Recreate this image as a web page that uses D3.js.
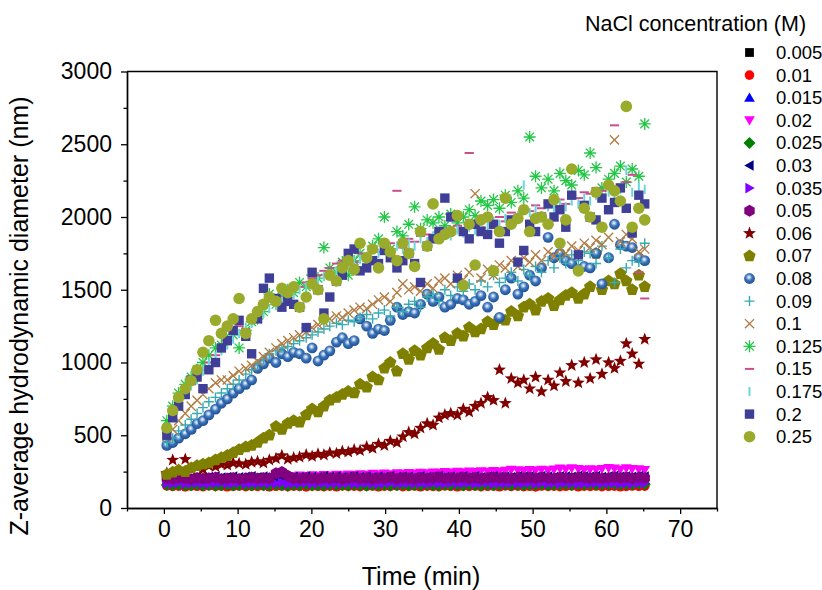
<!DOCTYPE html>
<html><head><meta charset="utf-8">
<script src="https://cdn.jsdelivr.net/npm/d3@7"></script>
<style>
body{margin:0;background:#fff}
svg{display:block}
text{font-family:"Liberation Sans",Arial,sans-serif;fill:#000}
</style>
</head><body>
<svg id="c" width="822" height="590"></svg>
<script>
// ---------------- DATA ----------------
const times = [0.4,1.2,2.0,2.9,3.7,4.5,5.3,6.1,7.0,7.8,
 8.6,9.4,10.2,11.1,11.9,12.7,13.5,14.3,15.2,16.0,
 16.8,17.6,18.4,19.3,20.1,20.9,21.7,22.5,23.4,24.2,
 25.0,25.8,26.6,27.5,28.3,29.1,29.9,30.7,31.6,32.4,
 33.2,34.0,34.8,35.7,36.5,37.3,38.1,38.9,39.8,40.6,
 41.4,42.2,43.0,43.9,44.7,45.5,46.3,47.1,48.0,48.8,
 49.6,50.4,51.2,52.1,52.9,53.7,54.5,55.3,56.2,57.0,
 57.8,58.6,59.4,60.3,61.1,61.9,62.7,63.5,64.4,65.2];

const concentrations = ["0.005","0.01","0.015","0.02","0.025","0.03","0.035","0.05","0.06",
 "0.07","0.08","0.09","0.1","0.125","0.15","0.175","0.2","0.25"];

const d0005 = [178,175,180,176,172,179,174,177,181,175, 173,178,176,180,174,177,179,175,172,178,
 176,180,174,177,175,179,173,176,178,174, 180,175,177,173,179,176,174,178,175,177,
 172,179,176,174,178,175,180,177,173,176, 179,174,177,175,178,173,180,176,174,177,
 175,179,172,178,176,174,180,177,175,173, 178,176,179,174,177,175,180,173,176,178];
const d001 = [152,148,150,146,151,149,147,153,148,150, 146,149,151,147,150,148,152,146,149,151,
 147,150,148,145,151,149,147,150,146,152, 148,150,147,149,151,146,150,148,152,147,
 149,151,146,150,148,147,152,149,146,150, 148,151,147,149,150,146,152,148,150,147,
 149,145,151,148,150,147,149,152,146,150, 148,151,147,149,150,146,148,151,149,150];
const d0015 = [186,183,188,182,185,187,184,181,186,189, 183,185,188,182,186,184,187,183,185,189,
 182,186,184,188,183,185,187,182,186,184, 188,183,185,187,184,182,186,189,183,185,
 187,184,186,182,188,185,183,187,184,186, 189,183,185,188,182,186,184,187,183,185,
 188,182,186,184,187,183,189,185,182,186, 184,188,183,185,187,182,186,184,188,185];
const d002 = [195,199,194,198,201,196,199,202,197,200, 203,199,205,201,207,204,209,206,212,208,
 220,216,222,219,224,221,226,223,228,225, 230,226,232,228,234,231,236,232,238,235,
 240,236,242,238,244,241,246,243,248,245, 250,246,252,249,254,251,256,262,258,255,
 260,257,262,259,264,270,266,272,268,263, 266,262,268,275,270,264,272,268,265,260];
const d0025 = [158,156,160,154,157,159,155,158,153,157, 160,155,158,156,154,159,157,155,160,156,
 153,158,156,159,155,157,154,160,156,158, 155,159,157,153,158,156,160,155,157,159,
 154,158,156,160,157,155,159,156,158,154, 160,157,155,159,156,158,161,157,159,156,
 160,158,162,157,160,159,163,158,161,160, 164,159,162,161,165,160,163,162,166,164];
const d003 = [214,210,216,212,208,215,211,213,217,209, 212,216,210,214,218,211,215,213,209,217,
 212,214,210,216,213,211,217,212,215,210, 214,218,212,216,211,215,213,219,212,216,
 214,210,217,213,215,220,212,216,214,218, 213,217,211,215,219,214,216,212,218,215,
 217,213,219,215,212,218,216,214,220,217, 215,219,213,217,221,216,218,214,219,216];
const d0035 = [170,167,172,166,169,171,168,165,170,173, 167,169,172,166,170,168,171,167,169,173,
 166,170,168,172,167,169,171,166,170,168, 172,167,169,171,168,166,170,173,167,169,
 171,168,170,166,172,169,167,171,168,170, 173,167,169,172,166,170,168,171,167,169,
 172,166,170,168,171,167,173,169,166,170, 168,172,167,169,171,166,170,168,172,169];
const d005 = [205,200,208,202,198,206,201,204,209,199, 203,207,200,205,210,202,206,204,238,248,
 222,205,201,207,203,200,208,202,206,199, 204,209,202,207,200,205,203,210,201,206,
 204,199,208,203,206,211,202,207,204,209, 203,208,201,206,210,204,207,202,209,205,
 208,203,210,206,202,209,207,204,211,208, 205,210,203,207,212,206,209,204,210,207];
const d006 = [240,330,260,335,270,280,265,290,285,300, 295,310,305,300,315,320,310,330,340,360,
 335,345,350,365,355,370,365,380,375,390, 385,400,395,420,410,440,430,460,450,490,
 520,510,550,580,570,620,640,650,640,680, 660,700,720,760,740,950,720,890,860,880,
 820,900,800,880,840,930,870,980,860,1000, 890,1020,920,1000,960,1010,1130,1060,990,1160];
const d007 = [230,245,260,250,275,290,300,310,330,345, 360,380,400,420,430,450,480,500,560,540,
 580,600,590,640,680,660,700,740,760,780, 800,790,850,830,900,880,960,1000,940,1060,
 1020,1080,1050,1100,1130,1090,1170,1150,1200,1180, 1240,1210,1230,1280,1260,1300,1290,1350,1320,1380,
 1400,1360,1420,1440,1390,1430,1460,1480,1440,1470, 1520,1750,1500,1560,1540,1610,1560,1500,1600,1520];
const d008 = [430,450,480,510,540,580,600,640,680,720, 750,790,820,850,880,960,990,1030,1000,1060,
 1040,1070,1060,1030,1100,1010,1050,1080,1140,1170, 1130,1150,1300,1250,1200,1230,1220,1290,1380,1330,
 1350,1340,1400,1470,1420,1450,1380,1400,1440,1430, 1400,1420,1460,1380,1450,1310,1500,1580,1470,1520,
 1600,1560,1650,1860,1720,1750,1700,1680,1640,1660, 1650,1750,1540,1720,1950,1810,1800,1790,1720,1700];
const d009 = [450,480,530,570,610,650,690,730,760,790, 820,850,880,920,950,990,1020,1060,1080,1100,
 1110,1130,1150,1170,1190,1210,1230,1250,1270,1260, 1290,1280,1310,1330,1300,1340,1360,1320,1380,1350,
 1400,1420,1380,1450,1470,1420,1500,1460,1520,1490, 1540,1500,1560,1520,1600,1550,1580,1620,1560,1640,
 1600,1660,1620,1700,1650,1720,1680,1740,1700,1760, 1750,1680,1800,1720,1550,1780,1650,1700,1690,1820];
const d01 = [490,540,600,650,700,740,780,820,860,880, 880,910,940,960,980,1010,1040,1070,1100,1130,
 1150,1170,1190,1210,1240,1260,1280,1300,1320,1310, 1340,1360,1380,1370,1400,1430,1450,1420,1480,1540,
 1500,1520,1490,1540,1510,1560,1580,1540,1600,1570, 1620,2160,1580,1640,1600,1670,1650,1700,1660,1720,
 1690,1740,1700,1760,1730,1780,1750,1800,1770,1820, 1790,1840,1810,1860,2530,1830,1880,1850,1760,1780];
const d0125 = [600,700,790,850,900,950,1000,1050,1100,1120, 1150,1190,1100,1220,1280,1300,1350,1470,1400,1450,
 1500,1480,1550,1520,1600,1580,1790,1650,1620,1690, 1600,1700,1750,1720,1800,1850,2000,1780,1900,1870,
 1950,2070,1920,1980,1960,2000,1940,2020,1960,2000, 2050,2010,2110,2080,2120,2060,2150,2100,2180,2130,
 2550,2280,2200,2260,2180,2300,2250,2220,2320,2290, 2440,2340,2200,2260,2300,2350,2240,2330,2280,2640];
const d015 = [560,650,720,800,850,900,950,1000,1050,1100, 1150,1200,1250,1230,1300,1340,1380,1420,1400,1450,
 1480,1500,1520,1550,1580,1600,1630,1650,1680,1700, 1720,1690,1750,1730,1780,1760,1800,1820,2180,1790,
 1850,1830,1870,1880,1860,1900,1920,1880,1940,1910, 2440,1950,1930,1980,1960,2000,1970,2030,2010,2050,
 2040,2080,2060,2100,2070,2120,2090,2150,2130,2170, 2160,2200,2180,2220,2630,2200,2240,2290,1620,1440];
const d0175 = [540,640,720,780,840,880,940,990,1040,1080, 1120,1160,1200,1240,1270,1300,1340,1370,1400,1420,
 1450,1470,1500,1520,1540,1560,1590,1610,1630,1650, 1670,1690,1710,1730,1700,1750,1770,1740,1800,1780,
 1820,1800,1850,1830,1870,1850,1890,1870,1910,1890, 1930,1910,1950,1930,1970,1950,1990,1970,2010,2220,
 2030,2050,2010,2070,2050,2090,2070,2110,2090,2130, 2110,2150,2130,2170,2150,2190,2320,2170,2210,2190];
const d02 = [500,620,700,780,880,900,820,950,1000,1100, 1150,1220,1290,1180,1060,1300,1510,1580,1440,1380,
 1420,1400,1380,1240,1620,1500,1340,1450,1560,1600, 1750,1780,1630,1650,1700,1680,1770,1720,1650,1700,
 1750,1680,1550,1800,1850,1900,2130,2000,1580,1900, 1850,1950,1900,1880,1950,1820,1900,1980,1690,1770,
 1950,1900,2000,2090,2000,2050,1930,2150,1740,2080, 2000,1980,2130,2050,2100,2200,2060,1890,2150,2090];
const d025 = [550,670,760,820,875,950,1070,1150,1290,1200, 1250,1300,1440,1200,1300,1350,1400,1450,1420,1510,
 1480,1520,1380,1450,1540,1500,1300,1600,1560,1650, 1700,1640,1820,1720,1780,1650,1820,1760,1700,1820,
 1750,1660,1900,1800,2090,1850,1880,1900,2010,1530, 1950,1670,1980,2000,1630,1900,2130,1950,1990,2050,
 1900,1990,2000,1950,2120,1820,1980,2330,1630,2060, 2000,2170,1930,2220,2180,2110,2760,1930,2060,1980];

const seriesValues = [d0005,d001,d0015,d002,d0025,d003,d0035,d005,d006,d007,d008,d009,d01,d0125,d015,d0175,d02,d025];
const xTicks = [0,10,20,30,40,50,60,70];
const yTicks = [0,500,1000,1500,2000,2500,3000];
const xMinor = [-5,5,15,25,35,45,55,65,75];
const yMinor = [250,750,1250,1750,2250,2750];

// ---------------- STYLES ----------------
const styles = [
 {shape:"square", color:"#000000", size:4.4},
 {shape:"circle", color:"#ff0000", size:4.8},
 {shape:"triUp", color:"#0000ff", size:6.2},
 {shape:"triDown", color:"#ff00ff", size:6.2},
 {shape:"diamond", color:"#008000", size:6.0},
 {shape:"triLeft", color:"#000080", size:6.2},
 {shape:"triRight", color:"#8000ff", size:6.2},
 {shape:"hexagon", color:"#800080", size:6.0},
 {shape:"star", color:"#800000", size:6.8},
 {shape:"pentagon", color:"#808000", size:6.5},
 {shape:"ball", color:"#2c64a8", size:5.4},
 {shape:"plus", color:"#35aab2", size:5.0},
 {shape:"cross", color:"#b07a40", size:4.6},
 {shape:"asterisk", color:"#22c845", size:6.0},
 {shape:"hdash", color:"#c94f8c", size:4.6},
 {shape:"vdash", color:"#6ad6dc", size:4.6},
 {shape:"square", color:"#3f3f97", size:4.7},
 {shape:"circle", color:"#9aab2c", size:5.8}
];

// ---------------- CHART ----------------
const svg = d3.select("#c");
const x = d3.scaleLinear().domain([-5,75]).range([127,717]);
const y = d3.scaleLinear().domain([0,3000]).range([508,71.5]);

const defs = svg.append("defs");
const grad = defs.append("radialGradient").attr("id","ballGrad")
  .attr("cx","0.45").attr("cy","0.4").attr("r","0.6").attr("fx","0.45").attr("fy","0.38");
grad.append("stop").attr("offset","0").attr("stop-color","#ffffff");
grad.append("stop").attr("offset","0.22").attr("stop-color","#a9c4e8");
grad.append("stop").attr("offset","0.5").attr("stop-color","#3d74b8");
grad.append("stop").attr("offset","1").attr("stop-color","#1d4f92");

function poly(n,R,rot){
  const p=[];
  for(let k=0;k<n;k++){const a=(rot+360*k/n)*Math.PI/180;p.push([R*Math.cos(a),R*Math.sin(a)]);}
  return "M"+p.map(q=>q[0].toFixed(2)+","+q[1].toFixed(2)).join("L")+"Z";
}
function starPath(R){
  const r=R*0.42,p=[];
  for(let k=0;k<10;k++){const a=(-90+36*k)*Math.PI/180,rr=k%2?r:R;p.push([rr*Math.cos(a),rr*Math.sin(a)]);}
  return "M"+p.map(q=>q[0].toFixed(2)+","+q[1].toFixed(2)).join("L")+"Z";
}
function marker(g, st){
  const s=st.size, c=st.color;
  switch(st.shape){
    case "square": g.append("path").attr("d",`M${-s},${-s}h${2*s}v${2*s}h${-2*s}Z`).attr("fill",c); break;
    case "circle": g.append("circle").attr("r",s).attr("fill",c); break;
    case "ball": g.append("circle").attr("r",s).attr("fill","url(#ballGrad)"); break;
    case "triUp": g.append("path").attr("d",poly(3,s,-90)).attr("fill",c).attr("transform","translate(0,1)"); break;
    case "triDown": g.append("path").attr("d",poly(3,s,90)).attr("fill",c).attr("transform","translate(0,-1)"); break;
    case "triLeft": g.append("path").attr("d",poly(3,s,180)).attr("fill",c).attr("transform","translate(1,0)"); break;
    case "triRight": g.append("path").attr("d",poly(3,s,0)).attr("fill",c).attr("transform","translate(-1,0)"); break;
    case "diamond": g.append("path").attr("d",poly(4,s,-90)).attr("fill",c); break;
    case "hexagon": g.append("path").attr("d",poly(6,s,-90)).attr("fill",c); break;
    case "pentagon": g.append("path").attr("d",poly(5,s,-90)).attr("fill",c); break;
    case "star": g.append("path").attr("d",starPath(s)).attr("fill",c); break;
    case "plus": g.append("path").attr("d",`M${-s},0H${s}M0,${-s}V${s}`).attr("stroke",c).attr("stroke-width",1.4).attr("fill","none"); break;
    case "cross": g.append("path").attr("d",`M${-s},${-s}L${s},${s}M${-s},${s}L${s},${-s}`).attr("stroke",c).attr("stroke-width",1.3).attr("fill","none"); break;
    case "asterisk": {
      const d=s*0.72;
      g.append("path").attr("d",`M${-s},0H${s}M0,${-s}V${s}M${-d},${-d}L${d},${d}M${-d},${d}L${d},${-d}`)
       .attr("stroke",c).attr("stroke-width",1.3).attr("fill","none"); break;}
    case "hdash": g.append("path").attr("d",`M${-s},0H${s}`).attr("stroke",c).attr("stroke-width",2).attr("fill","none"); break;
    case "vdash": g.append("path").attr("d",`M0,${-s}V${s}`).attr("stroke",c).attr("stroke-width",2).attr("fill","none"); break;
  }
}

// points
const plot = svg.append("g");
seriesValues.forEach((vals,si)=>{
  const g = plot.append("g");
  vals.forEach((v,i)=>{
    const m = g.append("g").attr("transform",`translate(${x(times[i]).toFixed(2)},${y(v).toFixed(2)})`);
    marker(m, styles[si]);
  });
});

// axes
const axisColor="#000";
svg.append("g").attr("transform",`translate(0,${y(0)})`)
  .call(d3.axisBottom(x).tickValues(xTicks).tickSize(6).tickSizeOuter(0).tickPadding(7).tickFormat(d3.format("d")));
svg.append("g").attr("transform",`translate(0,${y(0)})`)
  .call(d3.axisBottom(x).tickValues(xMinor).tickSize(3.5).tickSizeOuter(0).tickFormat(""));
svg.append("g").attr("transform",`translate(${x(-5)},0)`)
  .call(d3.axisLeft(y).tickValues(yTicks).tickSize(6).tickSizeOuter(0).tickPadding(9).tickFormat(d3.format("d")));
svg.append("g").attr("transform",`translate(${x(-5)},0)`)
  .call(d3.axisLeft(y).tickValues(yMinor).tickSize(3.5).tickSizeOuter(0).tickFormat(""));
svg.selectAll(".domain").attr("stroke",axisColor).attr("stroke-width",1.4);
svg.selectAll(".tick line").attr("stroke",axisColor).attr("stroke-width",1.3);
svg.selectAll(".tick text").attr("font-size",23).attr("font-family","Liberation Sans, Arial, sans-serif");
// box
svg.append("path").attr("d",`M${x(-5)},${y(3000)}H${x(75)}V${y(0)}`).attr("fill","none").attr("stroke",axisColor).attr("stroke-width",1.4);

// axis titles
svg.append("text").attr("x",421).attr("y",585).attr("text-anchor","middle").attr("font-size",25).text("Time (min)");
svg.append("text").attr("transform","translate(28,316) rotate(-90)").attr("text-anchor","middle").attr("font-size",25)
  .text("Z-average hydrodynamic diameter (nm)");

// legend
svg.append("text").attr("x",585).attr("y",31).attr("font-size",21.5).text("NaCl concentration (M)");
concentrations.forEach((lab,i)=>{
  const yy = 52.5 + 22.6*i;
  const m = svg.append("g").attr("transform",`translate(749.5,${yy})`);
  marker(m, styles[i]);
  svg.append("text").attr("x",776).attr("y",yy).attr("dy","0.35em").attr("font-size",18.5).text(lab);
});
</script>
</body></html>
